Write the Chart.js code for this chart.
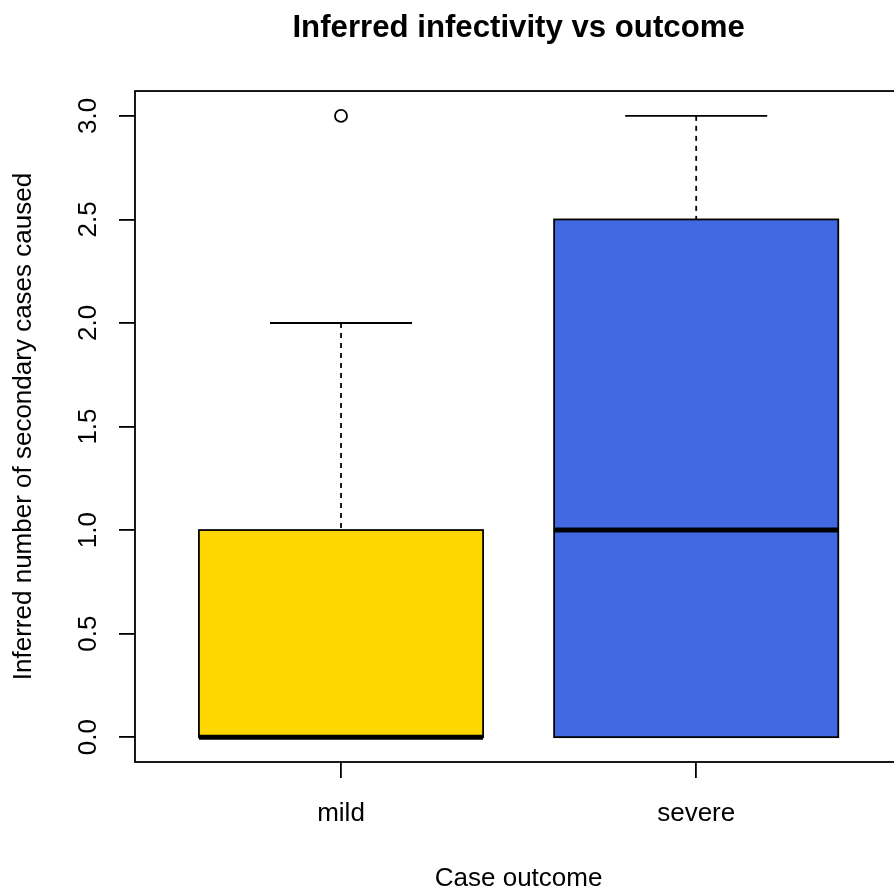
<!DOCTYPE html>
<html>
<head>
<meta charset="utf-8">
<script src="https://cdn.jsdelivr.net/npm/chart.js@4.4.1/dist/chart.umd.min.js"></script>
<style>
  html, body { margin: 0; padding: 0; background: #fff; overflow: hidden; }
  #wrap { width: 910px; height: 888px; }
</style>
</head>
<body>
<div id="wrap"><canvas id="c" width="910" height="888"></canvas></div>
<script>
// Five-number summaries per outcome group
const groups = ['mild', 'severe'];
const whiskerLow = [0, 0];
const quartile1 = [0, 0];
const medians = [0, 1];
const quartile3 = [1, 2.5];
const whiskerHigh = [2, 3];
const outliers = [[3], []];
const boxColors = ['#FFD700', '#4169E1'];

// Axis ticks
const yTicks = [0, 0.5, 1, 1.5, 2, 2.5, 3];
const xTicks = [1, 2];

const FONT = '"Liberation Sans", Arial, Helvetica, sans-serif';
const LINE = 1.8;

// Draws boxes, whiskers, staples and medians on the chart's own scales
const boxplotPlugin = {
  id: 'boxplot',
  beforeDatasetsDraw(chart) {
    const { ctx, scales: { x, y } } = chart;
    const halfBox = 0.4, halfStaple = 0.2;
    const seg = (x1, y1, x2, y2) => { ctx.beginPath(); ctx.moveTo(x1, y1); ctx.lineTo(x2, y2); ctx.stroke(); };
    ctx.save();
    ctx.strokeStyle = '#000';
    ctx.lineCap = 'butt';
    groups.forEach((g, i) => {
      const pos = i + 1;
      const xc = x.getPixelForValue(pos);
      const xl = x.getPixelForValue(pos - halfBox);
      const xr = x.getPixelForValue(pos + halfBox);
      const sl = x.getPixelForValue(pos - halfStaple);
      const sr = x.getPixelForValue(pos + halfStaple);
      const yLo = y.getPixelForValue(whiskerLow[i]);
      const yQ1 = y.getPixelForValue(quartile1[i]);
      const yMed = y.getPixelForValue(medians[i]);
      const yQ3 = y.getPixelForValue(quartile3[i]);
      const yHi = y.getPixelForValue(whiskerHigh[i]);

      // dashed whiskers
      ctx.lineWidth = LINE;
      ctx.setLineDash([5, 5]);
      seg(xc, yHi, xc, yQ3);
      seg(xc, yLo, xc, yQ1);
      ctx.setLineDash([]);
      // staples
      seg(sl, yHi, sr, yHi);
      seg(sl, yLo, sr, yLo);
      // box
      ctx.fillStyle = boxColors[i];
      ctx.fillRect(xl, yQ3, xr - xl, yQ1 - yQ3);
      ctx.strokeRect(xl, yQ3, xr - xl, yQ1 - yQ3);
      // median
      ctx.lineWidth = 5;
      seg(xl, yMed, xr, yMed);
    });
    ctx.restore();
  },
  afterDraw(chart) {
    const { ctx, chartArea: a } = chart;
    ctx.save();
    ctx.strokeStyle = '#000';
    ctx.lineWidth = LINE;
    ctx.strokeRect(a.left, a.top, a.right - a.left, a.bottom - a.top);
    ctx.restore();
  }
};

const outlierPoints = [];
outliers.forEach((vals, i) => vals.forEach(v => outlierPoints.push({ x: i + 1, y: v })));

new Chart(document.getElementById('c'), {
  type: 'scatter',
  data: {
    datasets: [{
      data: outlierPoints,
      pointRadius: 6,
      pointStyle: 'circle',
      borderColor: '#000',
      borderWidth: LINE,
      backgroundColor: 'rgba(0,0,0,0)'
    }]
  },
  plugins: [boxplotPlugin],
  options: {
    responsive: false,
    devicePixelRatio: 1,
    animation: false,
    events: [],
    layout: { padding: { left: 0, right: 7, top: 0, bottom: 0 } },
    plugins: {
      legend: { display: false },
      tooltip: { enabled: false },
      title: {
        display: true,
        text: 'Inferred infectivity vs outcome',
        fullSize: false,
        color: '#000',
        font: { family: FONT, size: 31.2, weight: 'bold', lineHeight: 1.2 },
        padding: { top: 10, bottom: 43.6 }
      }
    },
    scales: {
      x: {
        type: 'linear',
        position: 'bottom',
        min: 0.42,
        max: 2.58,
        bounds: 'data',
        afterBuildTicks: s => { s.ticks = xTicks.map(v => ({ value: v })); },
        afterFit: s => { s.height = 126; },
        ticks: {
          callback: (v, idx) => groups[idx],
          color: '#000',
          font: { family: FONT, size: 26 },
          padding: 20,
          minRotation: 0,
          maxRotation: 0,
          autoSkip: false
        },
        grid: { display: true, drawOnChartArea: false, drawTicks: true, tickLength: 16, tickColor: '#000', tickWidth: LINE, lineWidth: LINE, color: '#000' },
        border: { display: false },
        title: { display: true, text: 'Case outcome', color: '#000', font: { family: FONT, size: 26, lineHeight: 0.8 }, padding: { top: 0, bottom: -1 } }
      },
      y: {
        type: 'linear',
        position: 'left',
        min: -0.12,
        max: 3.12,
        bounds: 'data',
        afterBuildTicks: s => { s.ticks = yTicks.map(v => ({ value: v })); },
        afterFit: s => { s.width = 135; },
        ticks: {
          callback: v => Number(v).toFixed(1),
          color: '#000',
          font: { family: FONT, size: 26 },
          padding: 12,
          minRotation: 90,
          maxRotation: 90,
          crossAlign: 'center',
          autoSkip: false
        },
        grid: { display: true, drawOnChartArea: false, drawTicks: true, tickLength: 16, tickColor: '#000', tickWidth: LINE, lineWidth: LINE, color: '#000' },
        border: { display: false },
        title: { display: true, text: 'Inferred number of secondary cases caused', color: '#000', font: { family: FONT, size: 26, lineHeight: 1.2 }, padding: { top: 8.4, bottom: 0 } }
      }
    }
  }
});
</script>
</body>
</html>
